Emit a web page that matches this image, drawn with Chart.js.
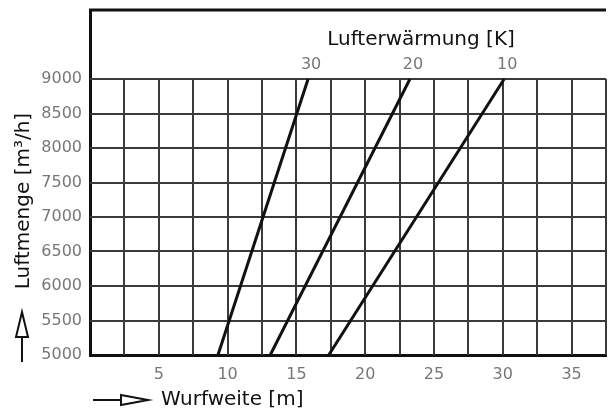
<!DOCTYPE html>
<html>
<head>
<meta charset="utf-8">
<script src="https://cdn.jsdelivr.net/npm/chart.js@4.4.1/dist/chart.umd.min.js"></script>
<style>
  html, body { margin: 0; padding: 0; background: #fff; }
  #chart { display: block; }
</style>
</head>
<body>
<canvas id="chart" width="616" height="412"></canvas>
<script>
// Lufterwärmung curves: air flow (m³/h) vs throw distance (m)
const heatingLabels = ['30', '20', '10'];
const airflow = [5000, 9000];
const throw30K = [9.3, 15.85];
const throw20K = [13.1, 23.25];
const throw10K = [17.35, 30.1];

const xTitle = 'Wurfweite [m]';
const yTitle = 'Luftmenge [m³/h]';
const topTitle = 'Lufterwärmung [K]';

const gridTop = 9000;
const tickFont = { family: 'DejaVu Sans', size: 16 };
const tickColor = '#777';
const ink = '#111';

const series = [throw30K, throw20K, throw10K];

const toPoints = (xs) => xs.map((x, i) => ({ x: x, y: airflow[i] }));

// grid only reaches up to 9000, plus top frame line
const gridPlugin = {
  id: 'gridPlugin',
  beforeDatasetsDraw(chart) {
    const { ctx, chartArea, scales: { x, y } } = chart;
    const yTop = y.getPixelForValue(gridTop);
    const yBot = y.getPixelForValue(y.min);
    ctx.save();
    ctx.strokeStyle = '#3a3a3a';
    ctx.lineWidth = 2;
    x.ticks.forEach(t => {
      if (t.value <= x.min) return;
      const px = Math.round(x.getPixelForValue(t.value));
      ctx.beginPath();
      ctx.moveTo(px, yTop);
      ctx.lineTo(px, yBot);
      ctx.stroke();
    });
    y.ticks.forEach(t => {
      if (t.value > gridTop || t.value <= y.min) return;
      const py = Math.round(y.getPixelForValue(t.value));
      ctx.beginPath();
      ctx.moveTo(chartArea.left, py);
      ctx.lineTo(chartArea.right, py);
      ctx.stroke();
    });
    // top frame
    ctx.strokeStyle = ink;
    ctx.lineWidth = 3;
    ctx.beginPath();
    ctx.moveTo(chartArea.left - 1, chartArea.top);
    ctx.lineTo(chartArea.right, chartArea.top);
    ctx.stroke();
    ctx.restore();
  }
};

// titles, curve labels and arrows
const annotatePlugin = {
  id: 'annotatePlugin',
  afterDraw(chart) {
    const { ctx, scales: { x, y } } = chart;
    const yTop = y.getPixelForValue(gridTop);
    ctx.save();

    // curve labels above the top end of each line
    ctx.font = '16px "DejaVu Sans"';
    ctx.fillStyle = tickColor;
    ctx.textAlign = 'center';
    ctx.textBaseline = 'middle';
    series.forEach((s, i) => {
      const px = x.getPixelForValue(s[s.length - 1]);
      ctx.fillText(heatingLabels[i], px + 3, yTop - 14);
    });

    ctx.font = '20px "DejaVu Sans"';
    ctx.fillStyle = ink;
    ctx.fillText(topTitle, 421, 40);

    // x title with arrow
    ctx.textAlign = 'left';
    ctx.fillText(xTitle, 161, 400);
    ctx.strokeStyle = ink;
    ctx.lineWidth = 2;
    ctx.beginPath();
    ctx.moveTo(93, 400);
    ctx.lineTo(121, 400);
    ctx.stroke();
    ctx.beginPath();
    ctx.moveTo(121, 395);
    ctx.lineTo(148, 400);
    ctx.lineTo(121, 405);
    ctx.closePath();
    ctx.stroke();

    // y title with arrow
    ctx.save();
    ctx.translate(24, 201);
    ctx.rotate(-Math.PI / 2);
    ctx.textAlign = 'center';
    ctx.fillText(yTitle, 0, 0);
    ctx.restore();
    ctx.beginPath();
    ctx.moveTo(22, 362);
    ctx.lineTo(22, 337);
    ctx.stroke();
    ctx.beginPath();
    ctx.moveTo(16, 337);
    ctx.lineTo(22, 312);
    ctx.lineTo(28, 337);
    ctx.closePath();
    ctx.stroke();

    ctx.restore();
  }
};

new Chart(document.getElementById('chart'), {
  type: 'line',
  data: {
    datasets: series.map((s, i) => ({
      label: heatingLabels[i] + ' K',
      data: toPoints(s),
      borderColor: ink,
      borderWidth: 3,
      pointRadius: 0,
      tension: 0
    }))
  },
  options: {
    responsive: false,
    animation: false,
    layout: { padding: { top: 10, right: 10, left: 0, bottom: 0 } },
    plugins: {
      legend: { display: false },
      tooltip: { enabled: false }
    },
    scales: {
      x: {
        type: 'linear',
        min: 0,
        max: 37.5,
        grid: { display: false, drawTicks: false },
        border: { display: true, color: ink, width: 3 },
        afterFit: (scale) => {
          scale.height = 57;
          scale.paddingLeft = 0;
          scale.paddingRight = 0;
        },
        ticks: {
          stepSize: 2.5,
          autoSkip: false,
          maxRotation: 0,
          padding: 10,
          color: tickColor,
          font: tickFont,
          callback: (v) => (v > 0 && v % 5 === 0 ? v : '')
        }
      },
      y: {
        type: 'linear',
        min: 5000,
        max: 10000,
        grid: { display: false, drawTicks: false },
        border: { display: true, color: ink, width: 3 },
        afterFit: (scale) => {
          scale.width = 90;
          scale.paddingTop = 0;
          scale.paddingBottom = 0;
        },
        ticks: {
          stepSize: 500,
          autoSkip: false,
          padding: 8,
          color: tickColor,
          font: tickFont,
          callback: (v) => (v <= gridTop ? v : '')
        }
      }
    }
  },
  plugins: [gridPlugin, annotatePlugin]
});
</script>
</body>
</html>
